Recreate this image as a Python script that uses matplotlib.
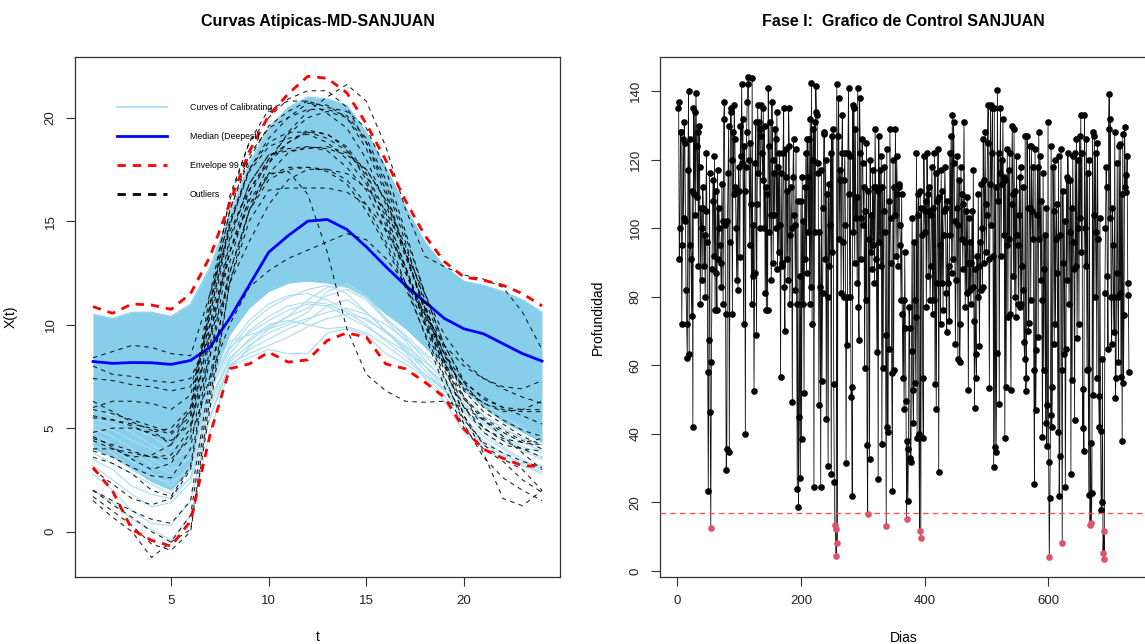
import matplotlib
matplotlib.use("Agg")
import matplotlib.pyplot as plt
from matplotlib.lines import Line2D
import numpy as np

plt.rcParams['font.family'] = ['Liberation Sans', 'DejaVu Sans']

# ---------------- Left panel data ----------------
t = list(range(1, 25))

band_upper = [10.5, 10.3, 10.6, 10.6, 10.4, 11.0, 12.8, 15.3, 17.8, 19.5, 20.5, 21.0,
              20.9, 20.6, 19.3, 17.6, 15.7, 14.0, 12.8, 12.1, 11.9, 11.6, 11.2, 10.6]
band_lower = [4.0, 3.6, 3.0, 2.4, 2.0, 3.0, 7.0, 9.5, 10.8, 11.6, 12.0, 12.1,
              12.0, 11.8, 11.3, 10.5, 9.8, 8.9, 8.0, 6.8, 6.0, 5.3, 4.8, 4.3]

calib_c1 = [5.0, 4.6, 4.0, 3.5, 3.0, 3.6, 6.5, 8.2, 9.0, 9.6, 10.0, 10.3, 10.6, 10.8, 10.5, 10.0, 9.3, 8.5, 7.6, 6.5, 5.6, 5.0, 4.5, 4.2]
calib_c2 = [3.8, 3.3, 2.8, 2.3, 1.8, 2.6, 6.0, 8.0, 8.8, 9.3, 9.8, 10.2, 10.9, 11.2, 10.6, 9.7, 8.8, 7.8, 6.8, 5.5, 4.6, 4.0, 3.4, 3.0]
calib_c3 = [4.5, 4.0, 3.4, 2.8, 2.2, 3.2, 6.8, 8.6, 9.7, 10.4, 10.9, 11.1, 11.0, 10.6, 10.0, 9.2, 8.5, 7.6, 6.8, 5.8, 5.0, 4.4, 3.9, 3.5]
calib_c4 = [3.2, 2.5, 1.8, 1.2, 1.4, 2.4, 5.5, 8.0, 8.4, 8.8, 8.6, 8.6, 9.6, 9.8, 9.5, 8.6, 8.1, 7.5, 6.6, 5.2, 4.2, 3.7, 3.3, 3.2]
calib_c5 = [5.5, 5.2, 4.8, 4.2, 3.6, 4.2, 7.2, 9.0, 10.2, 11.0, 11.4, 11.5, 11.2, 10.7, 10.2, 9.7, 9.0, 8.2, 7.4, 6.4, 5.6, 5.0, 4.5, 4.0]
calib_c6 = [2.0, 1.4, 0.6, 0.1, -0.4, 0.8, 4.8, 7.9, 8.9, 9.8, 10.4, 10.8, 11.4, 11.7, 11.2, 10.2, 9.2, 8.0, 6.9, 5.4, 4.4, 3.8, 3.2, 2.9]
calib_c7 = [6.0, 5.6, 5.0, 4.6, 4.0, 4.8, 7.6, 9.2, 9.5, 9.8, 10.1, 10.6, 11.6, 12.0, 11.4, 10.3, 9.5, 8.6, 7.9, 7.0, 6.2, 5.6, 5.0, 4.5]
calib_c8 = [4.2, 3.8, 3.0, 2.6, 2.4, 3.0, 6.2, 8.3, 9.3, 10.0, 10.2, 10.0, 9.8, 9.9, 9.6, 9.0, 8.3, 7.6, 6.9, 5.9, 5.2, 4.6, 4.0, 3.6]
calib_c9 = [4.8, 4.2, 3.8, 3.2, 2.8, 3.6, 6.9, 8.8, 10.0, 10.8, 11.3, 11.7, 11.9, 11.5, 10.6, 9.7, 8.7, 7.4, 6.3, 4.8, 4.0, 3.5, 3.2, 2.8]
calib_c10 = [3.5, 3.0, 2.2, 1.8, 1.6, 2.6, 6.4, 8.4, 9.2, 9.9, 10.4, 11.2, 11.8, 11.9, 11.3, 10.3, 9.4, 8.3, 7.3, 6.2, 5.3, 4.7, 4.1, 3.8]
calib_c11 = [2.8, 2.0, 1.0, 0.4, 0.3, 1.5, 5.6, 8.1, 8.6, 9.0, 9.4, 9.9, 10.3, 10.5, 10.3, 9.6, 8.9, 8.0, 7.1, 5.8, 4.8, 4.1, 3.5, 3.0]
calib_c12 = [5.2, 4.9, 4.4, 4.0, 3.4, 4.0, 7.0, 8.9, 9.6, 10.2, 10.7, 11.0, 10.9, 10.4, 9.9, 9.3, 8.7, 8.0, 7.2, 6.1, 5.4, 4.8, 4.3, 3.9]
calib_curves = [calib_c1, calib_c2, calib_c3, calib_c4, calib_c5, calib_c6,
                calib_c7, calib_c8, calib_c9, calib_c10, calib_c11, calib_c12]

median_deepest = [8.22, 8.13, 8.17, 8.16, 8.08, 8.27, 8.92, 10.3, 11.9, 13.5, 14.3, 15.0,
                  15.08, 14.6, 13.76, 12.8, 11.9, 11.1, 10.3, 9.8, 9.56, 9.08, 8.6, 8.24]

env_upper = [10.87, 10.55, 11.0, 10.95, 10.74, 11.5, 13.3, 15.85, 18.35, 20.1, 21.15, 22.0,
             21.9, 21.2, 19.7, 17.94, 16.0, 14.3, 13.04, 12.3, 12.15, 11.9, 11.5, 10.9]
env_lower = [3.1, 1.97, 0.1, -0.42, -0.7, 0.52, 4.7, 7.87, 8.1, 8.67, 8.19, 8.3,
             9.24, 9.6, 9.4, 8.1, 7.87, 7.22, 6.5, 4.96, 3.99, 3.55, 3.18, 3.15]

out_1 = [8.4, 8.7, 9.0, 8.9, 8.6, 8.5, 11.5, 14.5, 16.5, 17.8, 18.8, 19.4, 19.2, 18.5, 17.0, 14.8, 12.5, 10.5, 8.6, 7.2, 6.5, 6.0, 5.6, 5.2]
out_2 = [7.4, 7.3, 7.1, 7.0, 6.8, 7.0, 10.0, 13.5, 15.8, 17.2, 17.6, 17.6, 17.5, 17.0, 15.8, 14.0, 12.0, 10.0, 8.3, 7.0, 6.2, 5.8, 5.9, 6.3]
out_3 = [6.0, 6.3, 6.3, 6.2, 5.9, 6.6, 10.5, 14.8, 17.5, 19.0, 20.0, 20.7, 20.6, 20.0, 18.5, 16.3, 13.5, 10.8, 8.5, 6.9, 6.2, 5.9, 5.8, 5.8]
out_4 = [4.8, 5.0, 5.0, 4.8, 5.0, 6.0, 11.0, 15.5, 18.0, 19.6, 20.3, 20.8, 20.2, 19.5, 18.0, 15.8, 13.3, 10.8, 8.6, 6.8, 5.8, 5.2, 4.6, 4.2]
out_5 = [4.5, 4.2, 3.9, 3.6, 3.7, 5.0, 10.5, 15.0, 17.5, 18.8, 19.3, 19.3, 19.0, 18.4, 17.2, 15.2, 12.8, 10.2, 8.0, 6.4, 5.4, 4.8, 4.3, 4.5]
out_6 = [3.9, 3.6, 3.1, 2.7, 2.6, 4.0, 9.5, 14.2, 16.8, 18.2, 18.5, 18.6, 18.5, 18.2, 17.5, 16.0, 13.8, 11.2, 8.8, 6.5, 5.0, 4.4, 4.0, 3.6]
out_7 = [2.0, 1.5, 1.0, 0.6, 0.4, 1.5, 7.5, 12.5, 15.5, 17.0, 17.5, 17.6, 17.4, 16.8, 15.5, 13.8, 11.8, 9.6, 7.4, 5.4, 4.3, 3.8, 3.4, 3.1]
out_8 = [1.5, 0.7, 0.0, -1.25, -0.5, 0.1, 6.5, 12.0, 15.0, 16.5, 16.6, 16.6, 16.6, 16.4, 15.8, 14.6, 12.8, 10.4, 8.0, 5.6, 4.2, 3.5, 3.0, 2.0]
out_9 = [4.4, 4.0, 3.6, 3.7, 4.2, 6.0, 11.5, 16.0, 18.8, 20.4, 20.8, 20.8, 20.5, 20.3, 19.5, 17.5, 14.5, 11.5, 9.0, 7.2, 6.0, 5.4, 4.9, 4.6]
out_10 = [6.3, 5.8, 5.3, 4.9, 4.2, 5.5, 11.0, 16.2, 18.8, 20.0, 20.9, 21.3, 21.3, 20.5, 18.8, 16.5, 13.5, 10.6, 8.2, 6.5, 5.5, 4.9, 4.4, 4.0]
out_11 = [5.6, 5.4, 5.1, 4.7, 4.4, 5.2, 8.5, 12.5, 15.5, 17.8, 19.3, 20.3, 21.0, 21.6, 20.8, 18.6, 15.6, 13.3, 12.8, 12.4, 12.2, 11.8, 10.6, 8.8]
out_12 = [5.5, 5.4, 5.2, 5.0, 4.7, 5.6, 9.5, 13.5, 16.0, 17.3, 17.4, 16.3, 13.5, 9.8, 7.6, 6.8, 6.3, 6.25, 6.3, 6.0, 5.4, 4.6, 3.8, 3.0]
out_13 = [4.0, 4.0, 3.8, 3.6, 3.5, 4.5, 7.5, 10.0, 11.8, 12.6, 13.2, 13.6, 14.0, 14.4, 14.1, 13.2, 12.0, 10.5, 9.0, 8.0, 7.4, 7.0, 6.9, 7.3]
out_14 = [3.0, 2.3, 1.6, 1.3, 1.6, 3.0, 8.5, 13.5, 16.5, 18.0, 18.8, 19.3, 19.2, 18.6, 17.3, 15.4, 12.8, 10.0, 7.5, 5.2, 3.6, 2.6, 2.0, 1.5]
out_15 = [2.0, 1.3, 0.7, 0.0, -0.5, 0.8, 7.0, 13.0, 16.2, 18.0, 19.2, 20.0, 20.3, 20.0, 18.8, 16.8, 14.0, 11.0, 8.2, 5.6, 3.8, 1.6, 1.25, 2.0]
out_16 = [4.6, 4.1, 3.5, 3.0, 3.3, 4.8, 10.0, 14.8, 17.4, 18.6, 19.0, 19.2, 18.8, 18.0, 16.8, 15.0, 12.6, 10.1, 7.8, 6.0, 5.0, 4.5, 4.3, 4.2]
out_17 = [5.9, 5.7, 5.4, 5.1, 4.8, 5.8, 10.8, 15.5, 18.2, 19.5, 20.0, 20.4, 20.4, 20.1, 19.0, 17.0, 14.3, 11.5, 9.0, 7.3, 6.4, 6.0, 5.9, 5.9]
out_18 = [3.6, 3.3, 2.8, 2.0, 1.7, 3.2, 9.0, 14.0, 16.8, 18.2, 18.4, 18.5, 18.6, 18.3, 17.5, 16.0, 13.5, 10.8, 8.2, 6.0, 4.8, 4.2, 4.0, 3.9]
out_19 = [1.7, 1.0, 0.3, -0.6, -0.9, 0.0, 6.0, 12.0, 15.5, 17.3, 18.3, 18.6, 18.4, 17.6, 16.5, 14.5, 12.0, 9.5, 7.0, 5.0, 4.0, 3.4, 2.5, 1.9]
out_20 = [8.0, 7.6, 7.5, 7.3, 7.2, 7.4, 9.5, 12.0, 14.0, 15.8, 17.0, 17.5, 17.5, 17.3, 16.6, 15.5, 13.5, 11.5, 9.5, 8.2, 7.4, 6.9, 6.5, 6.2]
outliers = [out_1, out_2, out_3, out_4, out_5, out_6, out_7, out_8, out_9, out_10,
            out_11, out_12, out_13, out_14, out_15, out_16, out_17, out_18, out_19, out_20]

legend_labels = ["Curves of Calibrating", "Median (Deepest)", "Envelope 99 %", "Outliers"]

# ---------------- Right panel data ----------------
profundidad = [
    135, 137, 91, 100, 128, 128, 72, 95, 126, 103,
    131, 125, 102, 82, 72, 62, 117, 140, 63.4, 126,
    95, 91, 74.4, 111, 42, 135, 110, 134, 104, 139.5,
    124, 109, 128, 89, 130, 118, 78, 106, 100, 85,
    112, 106, 89, 98, 80, 105, 122, 96, 58, 23.4,
    67.4, 116, 46.5, 12.4, 61, 88, 108, 114, 92, 121,
    76, 111, 87, 76, 117, 91, 106, 100, 95, 90,
    83, 113, 102, 78, 132, 137, 101, 75, 29.5, 35.6,
    102, 116, 130, 34.6, 96, 134, 135, 120, 75, 128,
    110, 136, 126, 112, 100, 85, 111, 82, 118, 111,
    91.5, 130, 121, 142, 119, 132, 72, 124, 111, 40,
    118, 128, 137, 142, 144.3, 120, 95, 125, 107, 78,
    144, 86, 101, 52.6, 87, 119, 131, 68.8, 107, 136,
    116, 131, 129, 100, 127, 136, 122, 114, 135, 100,
    130, 81, 112, 76, 110, 76, 141, 124, 99, 131,
    104, 85, 137, 120, 90, 116, 104, 129, 126, 100,
    134, 88, 118, 93, 122, 101, 56.5, 116, 90, 89,
    122, 135, 83, 70, 115, 123, 91, 111, 85, 135,
    124, 78, 98, 112, 100, 49.4, 115, 126, 104, 101,
    82, 123, 78, 24, 108, 18.7, 44.8, 86, 27, 108,
    38.5, 115, 78, 102, 52, 112, 91, 122, 87, 126,
    115, 99, 126, 78, 132, 83, 142.5, 72, 120, 129,
    24.4, 131, 99, 141.5, 134, 133, 119, 116, 48.4, 99,
    83, 24.6, 117, 55.3, 81, 106, 127.5, 128, 91, 120,
    44.3, 110, 80, 30.7, 113, 89, 101, 122, 28.3, 127,
    93, 129, 54.6, 26, 13.5, 12.2, 4.4, 142, 8, 127,
    138, 97, 117, 114, 81, 122, 133, 96, 80, 114,
    122, 101, 31.4, 80, 65.8, 122, 141, 110, 80, 121,
    50.7, 53.6, 21.9, 136, 99, 135, 90, 129, 103, 109,
    84, 141, 77, 67.4, 138, 122, 91, 103, 126, 119,
    101, 112, 59.2, 105, 79, 125, 36.8, 16.6, 111, 97,
    32.7, 120, 93, 104, 88, 117, 95, 112, 84, 129,
    112, 91, 64, 111, 26.8, 127, 96, 117, 89, 121,
    37, 112, 59.3, 105, 118, 99, 68.9, 13.2, 123, 42.1,
    40.4, 108, 64.8, 129, 103, 90, 57.7, 23.2, 120, 58.5,
    112, 104, 129, 92, 121, 110, 89, 112, 113, 101,
    95, 79, 110, 75, 56.2, 79, 47.3, 93, 71, 49.7,
    15.1, 38, 20.3, 35.6, 77, 71, 32.8, 31.9, 64.3, 103,
    52.8, 43.1, 96, 79, 54.8, 74, 122, 38.8, 104, 110,
    40, 11.5, 111, 9.7, 106, 98, 56.3, 38.8, 121, 105,
    99, 108, 77, 122, 110, 86, 112, 105, 79, 89,
    104, 118, 75, 106, 79, 122, 54.6, 116, 47.3, 84,
    108, 123, 28.8, 109, 95, 72, 117, 84, 111, 76,
    98, 105, 118, 106, 81, 69.7, 108, 84, 89, 73,
    122, 98, 127, 87, 133, 91, 131, 119, 102, 66.3,
    85, 106, 121, 61.9, 101, 114, 61.1, 72, 118, 97,
    110, 88, 107, 131, 96, 77, 105, 81, 109, 90,
    52.8, 103, 82, 96, 78, 90, 105, 83, 117, 73,
    47.5, 88, 63.4, 56.3, 92, 80, 110, 89, 65.5, 96,
    82, 113, 100, 83, 126, 114, 90, 128, 107, 93,
    104, 125, 136, 91, 53.4, 113, 136, 101, 122, 135,
    92, 30.4, 135, 36.1, 112, 34.6, 63.5, 140.3, 108, 122,
    48.7, 116, 135, 92, 120, 113, 132, 98, 115, 38.8,
    114, 53.8, 95, 123, 74, 117, 97, 122, 75, 52.8,
    107, 130, 110, 86, 129, 80, 111, 74, 121, 98,
    95, 78, 104, 115, 77, 118, 78, 89, 112, 82,
    66.8, 61.9, 127, 52.4, 56.3, 127, 106, 70, 72.3, 124,
    106, 79, 124, 105, 97, 118, 58.7, 25.3, 123, 47,
    64.5, 104, 118, 68.4, 128, 97, 121, 85, 108, 79,
    39.2, 116, 58.7, 88, 98, 43.1, 106, 36.5, 48.5, 131,
    31.7, 3.9, 21.4, 45.6, 124, 42.1, 53.8, 118, 105, 66.3,
    120, 72, 97, 107, 87, 40.4, 121, 21.9, 33.6, 98,
    123, 58.7, 8, 111, 90, 63.2, 102, 24.6, 64.8, 115,
    85, 122, 114, 78, 99, 114, 28.3, 106, 55.6, 121,
    96, 88, 44.1, 122, 89, 126, 68, 100, 120, 72.1,
    127, 103, 133, 93, 122, 41.6, 53.1, 34.9, 133, 100,
    89, 126, 58.5, 116, 59, 22.2, 120, 13.5, 37.2, 14,
    22.6, 128, 51.4, 104, 127, 80, 122, 99, 56.3, 125,
    97, 50.9, 42.1, 103, 40.9, 17.7, 20, 61.9, 5.1, 11.5,
    3.4, 81, 100, 118, 112, 86, 64.8, 129, 139.2, 103,
    132, 80, 66.3, 106, 95, 80, 69.7, 128, 50.5, 56.3,
    87, 119, 80, 60.9, 124, 81, 124.5, 56.5, 110, 37.8,
    127.5, 54.8, 74.6, 129.5, 112, 115.5, 110.5, 121, 84, 80.5, 58,
]
dias = list(range(1, len(profundidad) + 1))
limite = 16.86

# ---------------- Figure ----------------
W, H = 1145, 644
fig = plt.figure(figsize=(W / 100, H / 100), dpi=100)

def px_axes(l, r, top, bot):
    return fig.add_axes([l / W, 1 - bot / H, (r - l) / W, (bot - top) / H])

ax1 = px_axes(75, 560, 57, 577)
ax2 = px_axes(660, 1147, 57, 577)

sky = "#87CEEB"
light = "#a9dcf0"

# Left panel
ax1.fill_between(t, band_lower, band_upper, color=sky, lw=0, zorder=1)
for c in calib_curves:
    ax1.plot(t, c, color=light, lw=0.8, zorder=2)
ax1.plot(t, band_upper, color=sky, lw=0.8, zorder=2)
ax1.plot(t, median_deepest, color="#0000ff", lw=2, zorder=3)
for o in outliers:
    ax1.plot(t, o, color="black", lw=0.8, ls=(0, (4, 4)), alpha=0.85, zorder=4)
ax1.plot(t, env_upper, color="red", lw=2.0, ls=(0, (3, 2.5)), zorder=5)
ax1.plot(t, env_lower, color="red", lw=2.0, ls=(0, (3, 2.5)), zorder=5)

ax1.set_xlim(0.08, 24.92)
ax1.set_ylim(-2.19, 22.93)
ax1.set_xticks([5, 10, 15, 20])
ax1.set_yticks([0, 5, 10, 15, 20])
ax1.set_title("Curvas Atipicas-MD-SANJUAN", fontsize=11.5, fontweight="bold", pad=22)
ax1.set_xlabel("t", fontsize=10)
ax1.set_ylabel("X(t)", fontsize=10)
ax1.xaxis.set_label_coords(0.5, -0.102)
ax1.yaxis.set_label_coords(-0.118, 0.5)

handles = [Line2D([], [], color=light, lw=1.2),
           Line2D([], [], color="#0000ff", lw=2),
           Line2D([], [], color="red", lw=2, ls=(0, (3, 2.5))),
           Line2D([], [], color="black", lw=2, ls=(0, (3, 2.5)))]
ax1.legend(handles, legend_labels, loc="upper left", frameon=False, fontsize=6.3,
           bbox_to_anchor=(117 / W, 1 - 103 / H), bbox_transform=fig.transFigure,
           borderpad=0, borderaxespad=0, handlelength=5.7, handletextpad=2.6,
           labelspacing=2.3)

# Right panel
ax2.plot(dias, profundidad, color="#111111", lw=0.6, zorder=2)
ok = [v >= limite for v in profundidad]
dias_ok = [d for d, k in zip(dias, ok) if k]
prof_ok = [v for v, k in zip(profundidad, ok) if k]
dias_out = [d for d, k in zip(dias, ok) if not k]
prof_out = [v for v, k in zip(profundidad, ok) if not k]
ax2.plot(dias_ok, prof_ok, "o", color="black", ms=4.8, mew=0, zorder=3)
ax2.plot(dias_out, prof_out, "o", color="#DF536B", ms=4.8, mew=0, zorder=3)
ax2.axhline(limite, color="#ff5555", lw=1.0, ls=(0, (4, 3)), zorder=4)

ax2.set_xlim(-28.2, 760.2)
ax2.set_ylim(-1.8, 150.0)
ax2.set_xticks([0, 200, 400, 600])
ax2.set_yticks([0, 20, 40, 60, 80, 100, 120, 140])
ax2.set_title("Fase I:  Grafico de Control SANJUAN", fontsize=11.5, fontweight="bold", pad=22)
ax2.set_xlabel("Dias", fontsize=10)
ax2.set_ylabel("Profundidad", fontsize=10)
ax2.xaxis.set_label_coords(0.5, -0.104)
ax2.yaxis.set_label_coords(-0.113, 0.5)

for ax in (ax1, ax2):
    for s in ax.spines.values():
        s.set_color("#333333")
        s.set_linewidth(0.9)
    ax.tick_params(axis="both", length=6.3, width=0.8, color="#333333",
                   labelsize=9.5, labelcolor="#222222", pad=7)
    for lab in ax.get_yticklabels():
        lab.set_rotation(90)
        lab.set_va("center")

fig.savefig("out.png", dpi=100)
